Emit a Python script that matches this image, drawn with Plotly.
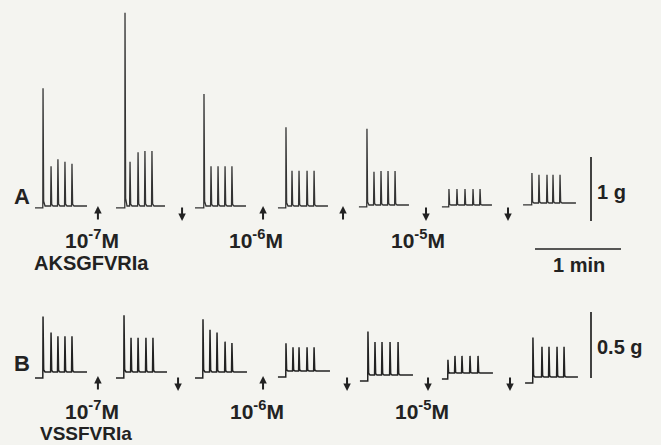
import plotly.graph_objects as go

# ---------------- data (time in s, force in g) ----------------
# Row A : AKSGFVRIa
a_seg_start = [0.0, 56.5, 111.6, 169.5, 226.0, 283.9, 340.5]
a_seg_end = [36.3, 90.7, 147.2, 204.4, 260.9, 318.8, 377.4]
a_base = [0.0, 0.0, 0.0, 0.0, 0.016, 0.016, 0.047]
a_spike_t = [
    [5.6, 11.2, 16.0, 20.9, 25.8],
    [62.8, 66.3, 71.9, 76.7, 81.6],
    [117.9, 122.8, 127.7, 132.6, 137.4],
    [175.1, 179.3, 184.2, 189.8, 194.7],
    [231.6, 236.5, 241.4, 246.3, 251.2],
    [288.8, 294.4, 300.0, 305.6, 310.5],
    [346.7, 351.6, 357.2, 361.4, 366.3],
]
a_spike_g = [
    [1.84, 0.62, 0.73, 0.69, 0.66],
    [3.02, 0.69, 0.84, 0.86, 0.86],
    [1.75, 0.62, 0.62, 0.62, 0.62],
    [1.23, 0.55, 0.55, 0.55, 0.55],
    [1.19, 0.52, 0.53, 0.53, 0.53],
    [0.25, 0.25, 0.25, 0.25, 0.25],
    [0.47, 0.44, 0.44, 0.44, 0.44],
]
a_arrow_t = [43.9, 102.6, 159.1, 214.9, 272.8, 330.0]
a_arrow_dir = ["up", "down", "up", "up", "down", "down"]

# Row B : VSSFVRIa
b_seg_start = [0.0, 56.5, 111.6, 169.5, 226.7, 283.9, 341.9]
b_seg_end = [36.3, 92.1, 147.9, 205.8, 263.7, 319.5, 378.8]
b_base = [0.0, 0.0, 0.0, 0.008, -0.023, -0.008, -0.038]
b_spike_t = [
    [5.6, 11.2, 16.0, 20.9, 25.8],
    [62.1, 67.0, 71.9, 77.4, 82.3],
    [117.2, 122.1, 127.0, 132.6, 137.4],
    [175.1, 180.0, 184.2, 189.8, 194.7],
    [232.3, 237.2, 242.1, 247.7, 253.3],
    [288.1, 293.0, 297.9, 303.5, 309.1],
    [347.4, 353.7, 358.6, 364.2, 369.1],
]
b_spike_g = [
    [0.42, 0.30, 0.27, 0.27, 0.27],
    [0.43, 0.26, 0.26, 0.26, 0.26],
    [0.40, 0.32, 0.30, 0.23, 0.22],
    [0.21, 0.18, 0.18, 0.18, 0.18],
    [0.33, 0.25, 0.25, 0.25, 0.25],
    [0.10, 0.13, 0.13, 0.13, 0.13],
    [0.30, 0.23, 0.23, 0.23, 0.23],
]
b_arrow_t = [43.9, 99.8, 159.1, 217.7, 274.2, 331.4]
b_arrow_dir = ["up", "down", "up", "down", "down", "down"]

conc_labels = ["10<sup>-7</sup>M", "10<sup>-6</sup>M", "10<sup>-5</sup>M"]
peptide_a = "AKSGFVRIa"
peptide_b = "VSSFVRIa"
scale_a_g = 1.0
scale_b_g = 0.5
scale_t_s = 60.0

# ---------------- geometry ----------------
W, H = 661, 445
PX_PER_S = 86 / 60.0
X0_PX = 35
A_BASE_PX, A_PX_PER_G = 206, 64.0
B_BASE_PX, B_PX_PER_G = 372, 132.0
x_range = [-X0_PX / PX_PER_S, (W - X0_PX) / PX_PER_S]
ya_range = [-(H - A_BASE_PX) / A_PX_PER_G, A_BASE_PX / A_PX_PER_G]
yb_range = [-(H - B_BASE_PX) / B_PX_PER_G, B_BASE_PX / B_PX_PER_G]

INK = "#222222"
BG = "#f4f4f0"
FONT = "Liberation Sans, Arial, sans-serif"


def build(starts, ends, bases, ts, gs, drop):
    xs, ys = [], []
    for s, e, b, tl, gl in zip(starts, ends, bases, ts, gs):
        xs += [s, tl[0] - 0.15]
        ys += [b - drop, b - drop]
        for i, (t, g) in enumerate(zip(tl, gl)):
            if i > 0:
                xs.append(t - 0.3)
                ys.append(b)
            xs += [t, t + 0.45, t + 1.4]
            ys += [b + g, b + 0.04 * g, b]
        xs += [e, None]
        ys += [b, None]
    return xs, ys


fig = go.Figure()
ax_, ay_ = build(a_seg_start, a_seg_end, a_base, a_spike_t, a_spike_g, 0.03)
bx_, by_ = build(b_seg_start, b_seg_end, b_base, b_spike_t, b_spike_g, 0.045)
fig.add_trace(go.Scatter(x=ax_, y=ay_, mode="lines", line=dict(color="#333333", width=1.3),
                         yaxis="y", hoverinfo="skip", showlegend=False))
fig.add_trace(go.Scatter(x=bx_, y=by_, mode="lines", line=dict(color=INK, width=1.5),
                         yaxis="y2", hoverinfo="skip", showlegend=False))

# scale bars
sx = (591 - X0_PX) / PX_PER_S
a_bar_bottom = -0.234
fig.add_trace(go.Scatter(x=[sx, sx], y=[a_bar_bottom, a_bar_bottom + scale_a_g], mode="lines",
                         line=dict(color=INK, width=1.7), yaxis="y", hoverinfo="skip", showlegend=False))
b_bar_bottom = -0.045
fig.add_trace(go.Scatter(x=[sx, sx], y=[b_bar_bottom, b_bar_bottom + scale_b_g], mode="lines",
                         line=dict(color=INK, width=1.7), yaxis="y2", hoverinfo="skip", showlegend=False))
tx0 = (535 - X0_PX) / PX_PER_S
ty = -(249 - A_BASE_PX) / A_PX_PER_G
fig.add_trace(go.Scatter(x=[tx0, tx0 + scale_t_s], y=[ty, ty], mode="lines",
                         line=dict(color=INK, width=1.7), yaxis="y", hoverinfo="skip", showlegend=False))

annotations = []


def add_arrows(times, dirs, yref, top, bottom):
    for t, d in zip(times, dirs):
        head, tail = (top, bottom) if d == "up" else (bottom, top)
        annotations.append(dict(x=t, y=head, ax=t, ay=tail, xref="x", yref=yref,
                                axref="x", ayref=yref, text="", showarrow=True,
                                arrowhead=2, arrowsize=0.75, arrowwidth=2.0,
                                arrowcolor=INK, standoff=0, startstandoff=0))


add_arrows(a_arrow_t, a_arrow_dir, "y", -(206 - A_BASE_PX) / A_PX_PER_G, -(221 - A_BASE_PX) / A_PX_PER_G)
add_arrows(b_arrow_t, b_arrow_dir, "y2", -(376 - B_BASE_PX) / B_PX_PER_G, -(391 - B_BASE_PX) / B_PX_PER_G)


def txt(text, px, py, size=18, anchor="center"):
    annotations.append(dict(text="<b>" + text + "</b>", x=px / W, y=1 - py / H,
                            xref="paper", yref="paper", showarrow=False,
                            xanchor=anchor, yanchor="middle",
                            font=dict(family=FONT, size=size, color=INK)))


txt("A", 22, 196, 22)
txt("B", 22, 363, 22)
for lbl, px in zip(conc_labels, [92, 256, 418]):
    txt(lbl, px, 239, 21)
for lbl, px in zip(conc_labels, [92, 257, 422]):
    txt(lbl, px, 410, 21)
txt(peptide_a, 91, 263, 20)
txt(peptide_b, 86, 433, 19)
txt("1 g", 595, 192, 20, "left")
txt("0.5 g", 595, 347, 20, "left")
txt("1 min", 579, 265, 20)

fig.update_layout(
    width=W, height=H, margin=dict(l=0, r=0, t=0, b=0),
    paper_bgcolor=BG, plot_bgcolor=BG,
    xaxis=dict(range=x_range, visible=False, fixedrange=True),
    yaxis=dict(range=ya_range, visible=False, fixedrange=True),
    yaxis2=dict(range=yb_range, visible=False, overlaying="y", fixedrange=True),
    annotations=annotations,
    showlegend=False,
)

fig.write_html("out.html")
